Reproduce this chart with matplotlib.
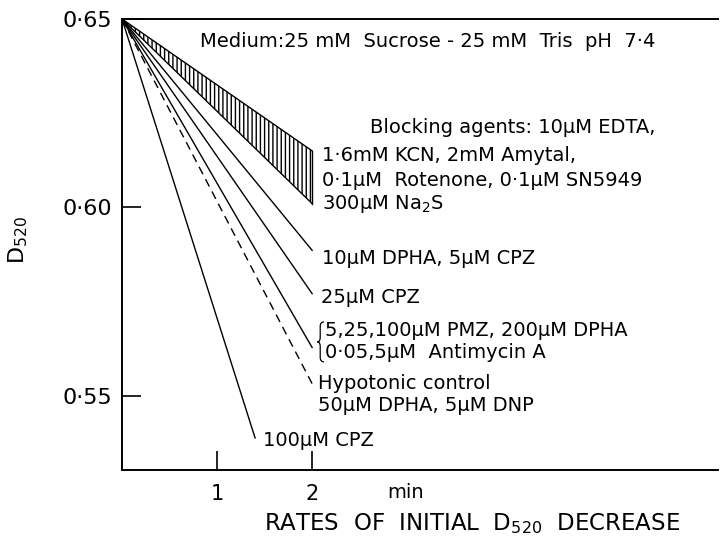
import matplotlib
matplotlib.use("Agg")
import matplotlib.pyplot as plt
from matplotlib.path import Path
from matplotlib.patches import PathPatch
import numpy as np

plt.rcParams['font.family'] = ['DejaVu Sans']

# Common starting point of every trace
x0, y0 = 0.0, 0.65

# Hatched band of the blocking agents (upper / lower edge at 2 min)
band_x_end = 2.0
band_top_end = 0.615
band_bottom_end = 0.601

# Single traces: end time (min) and D520 reached
trace_names = ["10μM DPHA", "25μM CPZ", "PMZ / Antimycin A", "Hypotonic control", "100μM CPZ"]
trace_x_end = [2.0, 2.0, 2.0, 2.0, 1.40]
trace_y_end = [0.5886, 0.5771, 0.5628, 0.5532, 0.5388]
trace_styles = ["-", "-", "-", (0, (6, 4)), "-"]

y_ticks = [0.55, 0.60, 0.65]
y_tick_labels = ["0·55", "0·60", "0·65"]
x_ticks = [1, 2]
x_tick_labels = ["1", "2"]

fig = plt.figure(figsize=(7.22, 5.37), dpi=100)
ax = fig.add_axes([0.169, 0.1248, 0.8255, 0.8398])
ax.set_xlim(0, 6.27)
ax.set_ylim(0.5303, 0.65)

lw = 1.0
# Band between the two edges, vertically hatched
bx = np.array([x0, band_x_end])
top = np.array([y0, band_top_end])
bot = np.array([y0, band_bottom_end])
ax.fill_between(bx, bot, top, facecolor="none", edgecolor="black",
                hatch="||||", linewidth=0)
ax.plot(bx, top, color="black", lw=lw)
ax.plot(bx, bot, color="black", lw=lw)
ax.plot([band_x_end, band_x_end], [band_bottom_end, band_top_end], color="black", lw=lw)

for xe, ye, ls in zip(trace_x_end, trace_y_end, trace_styles):
    ax.plot([x0, xe], [y0, ye], color="black", lw=lw, linestyle=ls)

# Axes frame: left, top and bottom only
ax.spines["right"].set_visible(False)
for s in ("left", "top", "bottom"):
    ax.spines[s].set_linewidth(1.4)

ax.set_yticks(y_ticks)
ax.set_yticklabels(y_tick_labels)
ax.set_xticks(x_ticks)
ax.set_xticklabels(x_tick_labels)
ax.tick_params(axis="y", direction="in", length=14, width=1.2, labelsize=16, pad=7)
ax.tick_params(axis="x", direction="in", length=14, width=1.2, labelsize=15, pad=10)

fs = 14
ax.text(0.82, 0.6439, "Medium:25 mM  Sucrose - 25 mM  Tris  pH  7·4",
        fontsize=fs, va="center", ha="left")
ax.text(2.61, 0.6213, "Blocking agents: 10μM EDTA,", fontsize=fs, va="center")
ax.text(2.105, 0.6138, "1·6mM KCN, 2mM Amytal,", fontsize=fs, va="center")
ax.text(2.105, 0.6072, "0·1μM  Rotenone, 0·1μM SN5949", fontsize=fs, va="center")
ax.text(2.105, 0.6008, "300μM Na$_2$S", fontsize=fs, va="center")
ax.text(2.105, 0.5864, "10μM DPHA, 5μM CPZ", fontsize=fs, va="center")
ax.text(2.09, 0.5761, "25μM CPZ", fontsize=fs, va="center")
ax.text(2.14, 0.5673, "5,25,100μM PMZ, 200μM DPHA", fontsize=fs, va="center")
ax.text(2.14, 0.5614, "0·05,5μM  Antimycin A", fontsize=fs, va="center")
ax.text(2.06, 0.5532, "Hypotonic control", fontsize=fs, va="center")
ax.text(2.06, 0.5473, "50μM DPHA, 5μM DNP", fontsize=fs, va="center")
ax.text(1.484, 0.5380, "100μM CPZ", fontsize=fs, va="center")

# Curly brace grouping the two PMZ / Antimycin label lines
xl, xm, xr = 2.055, 2.085, 2.125
yt, yb = 0.5696, 0.5590
ym = (yt + yb) / 2
d = 0.0012
verts = [(xr, yt), (xm, yt), (xm, yt - d),
         (xm, ym + d),
         (xm, ym), (xl, ym),
         (xm, ym), (xm, ym - d),
         (xm, yb + d),
         (xm, yb), (xr, yb)]
codes = [Path.MOVETO, Path.CURVE3, Path.CURVE3,
         Path.LINETO,
         Path.CURVE3, Path.CURVE3,
         Path.CURVE3, Path.CURVE3,
         Path.LINETO,
         Path.CURVE3, Path.CURVE3]
ax.add_patch(PathPatch(Path(verts, codes), fill=False, lw=0.9, color="black"))

ax.text(2.98, -0.05, "min", fontsize=fs, va="center", ha="center",
        transform=ax.get_xaxis_transform())
fig.text(472 / 722, 1 - 530 / 537, "RATES  OF  INITIAL  D$_{520}$  DECREASE",
         fontsize=16.5, ha="center", va="baseline")
fig.text(18 / 722, 1 - 240 / 537, "D$_{520}$", fontsize=16, rotation=90,
         ha="center", va="center")

fig.savefig("out.png", dpi=100)
